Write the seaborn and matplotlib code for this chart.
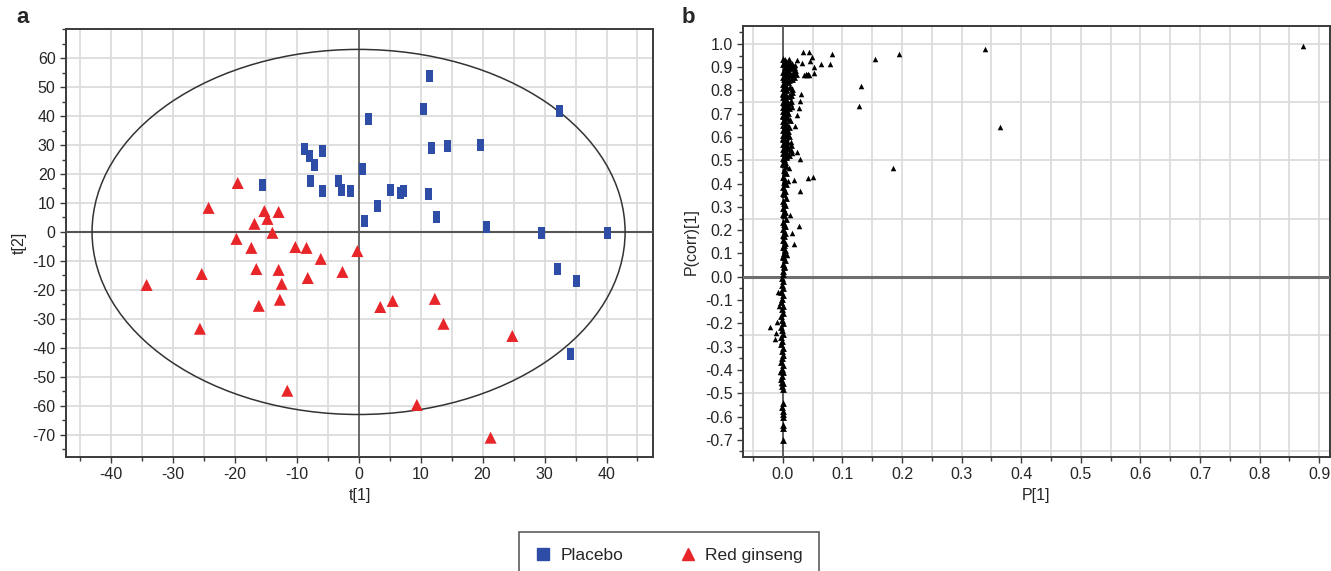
import numpy as np
import pandas as pd
import matplotlib
matplotlib.use("Agg")
import matplotlib.pyplot as plt
from matplotlib.patches import Ellipse
from matplotlib.lines import Line2D
from matplotlib.ticker import MultipleLocator, FixedLocator, FormatStrFormatter
import seaborn as sns

# ---------------- data: panel a (score plot) ----------------
placebo_t1 = [-15.5, -8.7, -7.9, -7.1, -5.8, -7.7, -5.8, -3.2, -2.7, -1.3, 0.6, 1.0, 1.6, 3.1,
              5.2, 6.8, 7.3, 10.5, 11.5, 11.8, 11.3, 12.6, 14.4, 19.7, 20.6, 29.5, 32.4, 32.1,
              35.2, 40.2, 34.2]
placebo_t2 = [16.2, 28.6, 26.2, 23.1, 27.9, 17.6, 14.1, 17.6, 14.5, 14.1, 21.7, 3.8, 39.0, 9.0,
              14.5, 13.4, 14.1, 42.4, 53.8, 29.0, 13.1, 5.2, 29.7, 30.0, 1.7, -0.3, 41.7, -12.8,
              -16.9, -0.3, -42.1]
ginseng_t1 = [-19.5, -24.2, -15.2, -14.7, -12.9, -16.8, -13.9, -19.7, -17.3, -10.2, -8.4, -6.1,
              -0.2, -16.5, -12.9, -25.3, -34.2, -8.2, -2.6, -12.4, -16.1, -12.7, -25.6, -11.5,
              3.5, 5.5, 12.3, 13.7, 24.8, 9.4, 21.3]
ginseng_t2 = [16.9, 8.3, 7.2, 4.5, 6.9, 2.8, -0.3, -2.4, -5.5, -5.2, -5.5, -9.3, -6.6, -12.8,
              -13.1, -14.5, -18.3, -15.9, -13.8, -17.9, -25.5, -23.4, -33.4, -54.8, -25.9,
              -23.8, -23.1, -31.7, -35.9, -59.7, -71.0]
ellipse_a = 43.0   # Hotelling T2 semi-axis on t[1]
ellipse_b = 63.0   # Hotelling T2 semi-axis on t[2]
a_xticks = [-40, -30, -20, -10, 0, 10, 20, 30, 40]
a_yticks = [-70, -60, -50, -40, -30, -20, -10, 0, 10, 20, 30, 40, 50, 60]

# ---------------- data: panel b (S-plot) ----------------
outlier_p = [0.872, 0.339, 0.364, 0.195, 0.185, 0.154, 0.131, 0.128, 0.082, 0.079, 0.064, 0.052,
             0.052, 0.049, 0.045, 0.044, 0.034, 0.032, 0.023, 0.020, 0.010, 0.030, 0.029, 0.027,
             0.023, 0.015, 0.020, 0.013, 0.015, 0.023, 0.029, 0.010, 0.042, 0.050, 0.008, 0.018,
             0.029, 0.012, 0.027, 0.015, 0.018, 0.007, -0.008, -0.007, -0.010, -0.022, -0.012,
             -0.013, -0.005, -0.004, 0.036, 0.040, 0.044, 0.038, 0.042]
outlier_pcorr = [0.991, 0.979, 0.644, 0.957, 0.468, 0.936, 0.820, 0.734, 0.957, 0.914, 0.914,
                 0.901, 0.876, 0.944, 0.927, 0.966, 0.966, 0.918, 0.931, 0.910, 0.936, 0.785,
                 0.755, 0.725, 0.695, 0.730, 0.648, 0.580, 0.532, 0.537, 0.506, 0.468, 0.425,
                 0.429, 0.412, 0.416, 0.369, 0.266, 0.219, 0.189, 0.142, 0.094, -0.064, -0.124,
                 -0.193, -0.215, -0.240, -0.266, -0.410, -0.456, 0.868, 0.866, 0.868, 0.872, 0.872]
column_points = [
    (0.000, 0.935), (0.004, 0.930), (0.008, 0.925), (0.002, 0.920), (0.012, 0.920), (0.016, 0.915),
    (0.006, 0.910), (0.010, 0.905), (0.018, 0.900), (0.003, 0.900), (0.014, 0.895), (0.020, 0.890),
    (0.007, 0.885), (0.011, 0.880), (0.017, 0.875), (0.022, 0.870), (0.004, 0.870), (0.013, 0.865),
    (0.019, 0.860), (0.008, 0.855), (0.015, 0.850), (0.002, 0.850), (0.010, 0.845), (0.006, 0.840),
    (0.000, 0.915), (0.005, 0.895), (0.000, 0.880), (0.009, 0.870), (0.000, 0.860), (0.005, 0.845),
    (0.009, 0.835), (0.003, 0.825), (0.012, 0.815), (0.006, 0.805), (0.015, 0.795), (0.001, 0.785),
    (0.010, 0.775), (0.005, 0.765), (0.013, 0.755), (0.002, 0.745), (0.008, 0.735), (0.011, 0.725),
    (0.004, 0.715), (0.009, 0.705), (0.001, 0.695), (0.007, 0.685), (0.012, 0.675), (0.003, 0.665),
    (0.006, 0.655), (0.010, 0.645), (0.002, 0.635), (0.008, 0.625), (0.005, 0.615), (0.011, 0.605),
    (0.001, 0.595), (0.007, 0.585), (0.004, 0.575), (0.013, 0.565), (0.009, 0.555), (0.014, 0.545),
    (0.003, 0.535), (0.010, 0.525), (0.006, 0.515), (0.002, 0.505),
    (0.001, 0.830), (0.001, 0.810), (0.001, 0.790), (0.001, 0.770), (0.001, 0.750), (0.001, 0.730),
    (0.001, 0.710), (0.001, 0.690), (0.001, 0.670), (0.001, 0.650), (0.001, 0.630), (0.001, 0.610),
    (0.001, 0.590), (0.001, 0.570), (0.001, 0.550), (0.001, 0.530), (0.001, 0.510),
    (0.005, 0.820), (0.005, 0.800), (0.005, 0.780), (0.005, 0.760), (0.005, 0.740), (0.005, 0.720),
    (0.005, 0.700), (0.005, 0.680), (0.005, 0.660), (0.005, 0.640), (0.005, 0.620), (0.005, 0.600),
    (0.005, 0.580), (0.005, 0.560), (0.005, 0.540), (0.005, 0.520),
    (0.016, 0.805), (0.014, 0.780), (0.012, 0.745),
    (0.004, 0.495), (0.001, 0.485), (0.006, 0.475), (0.002, 0.460), (0.005, 0.445), (0.000, 0.430),
    (0.003, 0.415), (0.006, 0.400), (0.001, 0.385), (0.004, 0.370), (0.002, 0.355), (0.005, 0.340),
    (0.000, 0.325), (0.003, 0.310), (0.001, 0.295), (0.004, 0.280), (0.002, 0.265), (0.005, 0.250),
    (0.000, 0.235), (0.003, 0.220), (0.001, 0.205), (0.004, 0.190), (0.002, 0.175), (0.000, 0.160),
    (0.003, 0.145), (0.001, 0.130), (0.004, 0.115), (0.002, 0.100), (0.000, 0.085), (0.003, 0.070),
    (0.001, 0.055), (0.002, 0.040), (0.000, 0.025), (0.001, 0.010),
    (0.001, 0.490), (0.003, 0.450), (0.002, 0.405), (0.001, 0.360), (0.002, 0.315), (0.001, 0.270),
    (0.002, 0.225), (0.001, 0.180), (0.002, 0.135), (0.001, 0.090), (0.002, 0.045),
    (-0.001, -0.005), (0.001, -0.020), (-0.002, -0.035), (0.000, -0.050), (-0.003, -0.065),
    (0.001, -0.080), (-0.001, -0.095), (-0.004, -0.110), (0.000, -0.125), (-0.002, -0.140),
    (0.001, -0.155), (-0.003, -0.170), (-0.001, -0.185), (0.000, -0.200), (-0.004, -0.215),
    (-0.002, -0.230), (0.001, -0.245), (-0.003, -0.260), (-0.001, -0.275), (-0.004, -0.290),
    (0.000, -0.305), (-0.002, -0.320), (0.001, -0.335), (-0.001, -0.350), (-0.003, -0.365),
    (0.000, -0.380), (-0.002, -0.395), (0.001, -0.410), (-0.001, -0.425), (-0.003, -0.440),
    (0.000, -0.455), (-0.002, -0.470), (0.000, -0.480),
    (0.000, -0.540), (-0.001, -0.560), (0.000, -0.575), (0.000, -0.590), (0.000, -0.600),
    (0.000, -0.635), (0.000, -0.650), (0.000, -0.700),
]
b_xticks = [0.0, 0.1, 0.2, 0.3, 0.4, 0.5, 0.6, 0.7, 0.8, 0.9]
b_ygrid = [-0.75, -0.5, -0.25, 0.25, 0.5, 0.75, 1.0]

# ---------------- style ----------------
sns.set_style("white")
plt.rcParams['font.family'] = ['Liberation Sans', 'DejaVu Sans']
plt.rcParams['axes.unicode_minus'] = False

BLUE = "#2E4DA7"
RED = "#E8262A"
GRID = "#DCDCDC"
SPINE = "#3A3A3A"

fig = plt.figure(figsize=(13.31, 5.71), dpi=100)
ax_a = fig.add_axes([0.0496, 0.200, 0.441, 0.749])
ax_b = fig.add_axes([0.5582, 0.200, 0.4410, 0.7545])

# ---------------- panel a ----------------
df_a = pd.DataFrame({
    "t1": placebo_t1 + ginseng_t1,
    "t2": placebo_t2 + ginseng_t2,
    "group": ["Placebo"] * len(placebo_t1) + ["Red ginseng"] * len(ginseng_t1),
})
rect = [(-0.6, -1.0), (0.6, -1.0), (0.6, 1.0), (-0.6, 1.0)]
sns.scatterplot(data=df_a, x="t1", y="t2", hue="group", style="group",
                palette={"Placebo": BLUE, "Red ginseng": RED},
                markers={"Placebo": rect, "Red ginseng": "^"},
                s=75, linewidth=0, legend=False, ax=ax_a, zorder=5)
ax_a.add_patch(Ellipse((0, 0), 2 * ellipse_a, 2 * ellipse_b, fill=False,
                       edgecolor="#333333", lw=1.1, zorder=4))
ax_a.axvline(0, color="#555555", lw=1.2, zorder=3)
ax_a.axhline(0, color="#555555", lw=1.5, zorder=3)
ax_a.set_xlim(-47.2, 47.5)
ax_a.set_ylim(-77.6, 70)
ax_a.xaxis.set_major_locator(FixedLocator(a_xticks))
ax_a.xaxis.set_minor_locator(MultipleLocator(5))
ax_a.yaxis.set_major_locator(FixedLocator(a_yticks))
ax_a.yaxis.set_minor_locator(MultipleLocator(5))
ax_a.xaxis.grid(True, which="both", color=GRID, lw=1.3)
ax_a.yaxis.grid(True, which="major", color=GRID, lw=1.3)
ax_a.set_axisbelow(True)
ax_a.set_xlabel("t[1]", fontsize=11.5)
ax_a.set_ylabel("t[2]", fontsize=11.5, labelpad=4)

# ---------------- panel b ----------------
col_x = [p[0] for p in column_points]
col_y = [p[1] for p in column_points]
df_out = pd.DataFrame({"p": outlier_p, "pcorr": outlier_pcorr})
df_col = pd.DataFrame({"p": col_x, "pcorr": col_y})
sns.scatterplot(data=df_col, x="p", y="pcorr", marker="^", color="black",
                s=24, linewidth=0, legend=False, ax=ax_b, zorder=5)
sns.scatterplot(data=df_out, x="p", y="pcorr", marker="^", color="black",
                s=16, linewidth=0, legend=False, ax=ax_b, zorder=5)
ax_b.axvline(0, color="#555555", lw=1.3, zorder=3)
ax_b.axhline(0, color="#6E6E6E", lw=2.2, zorder=3)
for yg in b_ygrid:
    ax_b.axhline(yg, color=GRID, lw=1.3, zorder=0)
ax_b.set_xlim(-0.067, 0.918)
ax_b.set_ylim(-0.773, 1.077)
ax_b.xaxis.set_major_locator(FixedLocator(b_xticks))
ax_b.xaxis.set_minor_locator(MultipleLocator(0.05))
ax_b.yaxis.set_major_locator(MultipleLocator(0.1))
ax_b.yaxis.set_minor_locator(MultipleLocator(0.05))
ax_b.xaxis.set_major_formatter(FormatStrFormatter("%.1f"))
ax_b.yaxis.set_major_formatter(FormatStrFormatter("%.1f"))
ax_b.xaxis.grid(True, which="both", color=GRID, lw=1.3)
ax_b.yaxis.grid(False)
ax_b.set_axisbelow(True)
ax_b.set_xlabel("P[1]", fontsize=11.5)
ax_b.set_ylabel("P(corr)[1]", fontsize=11.5, labelpad=4)

for ax in (ax_a, ax_b):
    for sp in ax.spines.values():
        sp.set_visible(True)
        sp.set_color(SPINE)
        sp.set_linewidth(1.4)
    ax.tick_params(axis="both", which="major", direction="out", length=4, width=1,
                   color=SPINE, labelsize=11.5, left=True, bottom=True)
    ax.tick_params(axis="both", which="minor", direction="out", length=3, width=1,
                   color=SPINE, left=True, bottom=True)

fig.text(0.012, 0.970, "a", fontsize=16, fontweight="bold", va="center")
fig.text(0.512, 0.970, "b", fontsize=16, fontweight="bold", va="center")

handles = [
    Line2D([], [], marker="s", color=BLUE, linestyle="none", markersize=8, label="Placebo"),
    Line2D([], [], marker="^", color=RED, linestyle="none", markersize=9, label="Red ginseng"),
]
leg = fig.legend(handles=handles, loc="upper center", bbox_to_anchor=(0.5025, 0.083),
                 ncol=2, frameon=True, fancybox=False, fontsize=12.5, handletextpad=0.5,
                 columnspacing=3.2, borderpad=0.9, handlelength=1.0)
leg.get_frame().set_edgecolor("#333333")
leg.get_frame().set_linewidth(1.2)

fig.savefig("out.png", dpi=100)
